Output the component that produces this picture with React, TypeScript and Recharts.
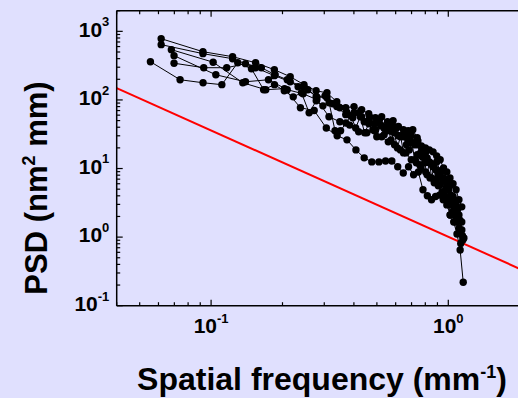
import React from 'react';
import { LineChart, Line, XAxis, YAxis } from 'recharts';

// ---------- data (spatial frequency in mm^-1, PSD in nm^2 mm) ----------
const freqAB = [0.0616, 0.0924, 0.1232, 0.154, 0.1848, 0.2156, 0.2464, 0.2772, 0.308, 0.3388, 0.3696, 0.4004, 0.4312, 0.462, 0.4928, 0.5236, 0.5544, 0.5852, 0.616, 0.6468, 0.6776, 0.7084, 0.7392, 0.77, 0.8008, 0.8316, 0.8624, 0.8932, 0.924, 0.9548, 0.9856, 1.0164, 1.0472, 1.078, 1.1088, 1.1396];
const psdA = [782, 505, 427, 349, 276, 218, 167, 136, 127, 94, 77, 80, 72, 63, 55, 57, 48, 50, 41, 36.7, 35.5, 36.7, 28.1, 21.4, 20.0, 18.7, 17.5, 15.3, 13.4, 10.2, 8.9, 7.3, 6.0, 4.9, 3.5, 2.76];
const psdB = [640, 473, 399, 295, 226, 184, 156, 111, 108, 80, 61, 65, 57, 50, 36.7, 42, 35.5, 41, 30.0, 29.0, 31.0, 23.7, 22.2, 15.3, 16.9, 12.1, 10.6, 12.5, 9.2, 7.3, 6.4, 5.6, 3.9, 2.95, 2.1, 1.66];

const freqC = [0.068, 0.102, 0.136, 0.17, 0.204, 0.238, 0.272, 0.306, 0.34, 0.374, 0.408, 0.442, 0.476, 0.51, 0.544, 0.578, 0.612, 0.646, 0.68, 0.714, 0.748, 0.782, 0.816, 0.85, 0.884, 0.918, 0.952, 0.986, 1.02, 1.054, 1.088, 1.122, 1.156];
const psdC = [541, 355, 178, 141, 146, 77, 70, 39, 30.0, 26.2, 18.7, 14.3, 12.5, 12.5, 12.9, 12.9, 10.6, 8.6, 10.6, 8.1, 8.9, 4.9, 4.0, 3.5, 3.9, 4.1, 3.5, 2.95, 2.1, 1.66, 1.11, 0.65, 0.22];

const freqD = [0.0698, 0.0931, 0.1164, 0.1396, 0.1629, 0.1862, 0.2094, 0.2327, 0.256, 0.2792, 0.3025, 0.3258, 0.349, 0.3723, 0.3956, 0.4189, 0.4421, 0.4654, 0.4887, 0.5119, 0.5352, 0.5585, 0.5817, 0.605, 0.6283, 0.6516, 0.6748, 0.6981, 0.7214, 0.7446, 0.7679, 0.7912, 0.8145, 0.8377, 0.861, 0.8843, 0.9075, 0.9308, 0.9541, 0.9774, 1.0006, 1.0239, 1.0472, 1.0704, 1.0937, 1.117, 1.1403, 1.1635];
const psdD = [343, 295, 295, 338, 295, 233, 197, 156, 141, 111, 115, 88, 77, 67, 55, 65, 48, 57, 45, 50, 39, 45, 34.3, 39, 29.0, 32.1, 26.2, 30.0, 22.2, 25.3, 17.5, 18.7, 14.3, 12.1, 10.9, 9.6, 8.1, 8.9, 6.8, 6.4, 4.9, 4.1, 3.5, 2.95, 2.5, 1.78, 1.27, 0.97];

const freqE = [0.0555, 0.074, 0.0925, 0.111, 0.1295, 0.148, 0.1665, 0.185, 0.2035, 0.222, 0.2405, 0.259, 0.2775, 0.296, 0.3145, 0.333, 0.3515, 0.37, 0.3885, 0.407, 0.4255, 0.444, 0.4625, 0.481, 0.4995, 0.518, 0.5365, 0.555, 0.5735, 0.592, 0.6105, 0.629, 0.6475, 0.666, 0.6845, 0.703, 0.7215, 0.74, 0.7585, 0.777, 0.7955, 0.814, 0.8325, 0.851, 0.8695, 0.888, 0.9065, 0.925, 0.9435, 0.962, 0.9805, 0.999, 1.0175, 1.036, 1.0545, 1.073, 1.0915, 1.11, 1.1285, 1.147];
const psdE = [361, 197, 178, 167, 349, 285, 141, 167, 136, 111, 127, 65, 97, 82, 91, 35.5, 35.5, 46, 59, 39, 57, 33.2, 45, 36.7, 29.0, 43, 31.0, 41, 26.2, 33.2, 20.0, 30.0, 16.9, 22.2, 18.7, 23.7, 13.4, 15.9, 11.3, 14.8, 12.1, 8.1, 12.5, 7.3, 10.6, 6.8, 9.2, 5.8, 7.3, 4.1, 5.2, 3.5, 2.1, 2.95, 2.35, 1.66, 2.1, 1.36, 0.81, 1.05];

const freqF = [0.0698, 0.1047, 0.1396, 0.1745, 0.2094, 0.2443, 0.2792, 0.3141, 0.349, 0.3839, 0.4188, 0.4537, 0.4886, 0.5235, 0.5584, 0.5933, 0.6282, 0.6631, 0.698, 0.7329, 0.7678, 0.8027, 0.8376, 0.8725, 0.9074, 0.9423, 0.9772, 1.0121, 1.047, 1.0819, 1.1168, 1.1517];
const psdF = [442, 233, 184, 197, 141, 123, 101, 57, 48, 43, 34.3, 33.2, 35.5, 29.0, 24.5, 22.2, 18.7, 16.9, 13.4, 12.1, 10.2, 8.9, 7.3, 6.2, 5.6, 4.6, 3.7, 2.95, 2.35, 1.9, 1.27, 0.91];

// red reference power-law line
const refFreq = [0.04, 2];
const refPsd = [149, 0.345];

// axes
const xDomain = [0.04, 2];
const yDomain = [0.1, 2000];
const xTicks = [0.04, 0.05, 0.06, 0.07, 0.08, 0.09, 0.1, 0.2, 0.3, 0.4, 0.5, 0.6, 0.7, 0.8, 0.9, 1, 2];
const xTickExp: Record<string, string> = { '0.1': '-1', '1': '0' };
const yTicks = [0.1, 0.2, 0.3, 0.4, 0.5, 0.6, 0.7, 0.8, 0.9, 1, 2, 3, 4, 5, 6, 7, 8, 9, 10, 20, 30, 40, 50, 60, 70, 80, 90, 100, 200, 300, 400, 500, 600, 700, 800, 900, 1000, 2000];
const yTickExp: Record<string, string> = { '0.1': '-1', '1': '0', '10': '1', '100': '2', '1000': '3' };

const xTitle = 'Spatial frequency (mm';
const xTitleSup = '-1';
const yTitle = 'PSD (nm';
const yTitleSup = '2';
const yTitleEnd = ' mm)';

const toRows = (f: number[], p: number[]) => f.map((x, i) => ({ f: x, v: p[i] }));
const series = [
  toRows(freqAB, psdA),
  toRows(freqAB, psdB),
  toRows(freqC, psdC),
  toRows(freqD, psdD),
  toRows(freqE, psdE),
  toRows(freqF, psdF),
];
const refRows = toRows(refFreq, refPsd);

const FONT = '"Liberation Sans", Arial, Helvetica, sans-serif';
const BG = '#E0E0FE';

const XTickBottom = (props: any) => {
  const { x, y, payload } = props;
  const exp = xTickExp[String(payload.value)];
  const major = exp !== undefined;
  return (
    <g>
      <line x1={x} x2={x} y1={y} y2={y - (major ? 6 : 3.5)} stroke="#000" strokeWidth={1.2} />
      {major && (
        <text x={x} y={y + 27.6} textAnchor="middle" fontFamily={FONT} fontWeight="bold" fill="#000">
          <tspan fontSize={21}>10</tspan>
          <tspan fontSize={13} dy={-10.5}>{exp}</tspan>
        </text>
      )}
    </g>
  );
};

const XTickTop = (props: any) => {
  const { x, y, payload } = props;
  const major = xTickExp[String(payload.value)] !== undefined;
  return <line x1={x} x2={x} y1={y} y2={y + (major ? 6 : 3.5)} stroke="#000" strokeWidth={1.2} />;
};

const YTickLeft = (props: any) => {
  const { x, y, payload } = props;
  const exp = yTickExp[String(payload.value)];
  const major = exp !== undefined;
  return (
    <g>
      <line x1={x} x2={x + (major ? 6 : 3.5)} y1={y} y2={y} stroke="#000" strokeWidth={1.2} />
      {major && (
        <text x={x - 7.4} y={y + 5.3} textAnchor="end" fontFamily={FONT} fontWeight="bold" fill="#000">
          <tspan fontSize={21}>10</tspan>
          <tspan fontSize={13} dy={-10.5}>{exp}</tspan>
        </text>
      )}
    </g>
  );
};

export default function App() {
  return (
    <div style={{ position: 'absolute', left: 0, top: 0, width: 518, height: 398, overflow: 'hidden', background: BG }}>
      <LineChart width={540} height={398} margin={{ top: 9.7, right: 20.3, bottom: 0, left: 0 }}>
        <XAxis
          xAxisId="top"
          orientation="top"
          type="number"
          dataKey="f"
          scale="log"
          domain={xDomain}
          allowDataOverflow
          ticks={xTicks}
          interval={0}
          height={1}
          tickSize={0}
          tickMargin={0}
          tickLine={false}
          axisLine={{ stroke: '#000', strokeWidth: 1.5 }}
          tick={(p: any) => <XTickTop {...p} />}
        />
        <XAxis
          type="number"
          dataKey="f"
          scale="log"
          domain={xDomain}
          allowDataOverflow
          ticks={xTicks}
          interval={0}
          height={92.3}
          tickSize={0}
          tickMargin={0}
          tickLine={false}
          axisLine={{ stroke: '#000', strokeWidth: 1.5 }}
          tick={(p: any) => <XTickBottom {...p} />}
        />
        <YAxis
          type="number"
          dataKey="v"
          scale="log"
          domain={yDomain}
          allowDataOverflow
          ticks={yTicks}
          interval={0}
          width={116.7}
          tickSize={0}
          tickMargin={0}
          tickLine={false}
          axisLine={{ stroke: '#000', strokeWidth: 1.5 }}
          tick={(p: any) => <YTickLeft {...p} />}
        />
        <Line
          data={refRows}
          dataKey="v"
          type="linear"
          stroke="#FF0000"
          strokeWidth={2}
          dot={false}
          isAnimationActive={false}
        />
        {series.map((rows, i) => (
          <Line
            key={i}
            data={rows}
            dataKey="v"
            type="linear"
            stroke="#000"
            strokeWidth={1}
            dot={{ r: 3.7, fill: '#000', stroke: 'none' }}
            isAnimationActive={false}
          />
        ))}
      </LineChart>
      <svg width={518} height={398} style={{ position: 'absolute', left: 0, top: 0, pointerEvents: 'none' }}>
        <text x={322} y={390} textAnchor="middle" fontFamily={FONT} fontWeight="bold" fontSize={32} fill="#000">
          {xTitle}
          <tspan fontSize={18} dy={-12}>{xTitleSup}</tspan>
          <tspan dy={12}>)</tspan>
        </text>
        <text
          transform="translate(47,188) rotate(-90)"
          textAnchor="middle"
          fontFamily={FONT}
          fontWeight="bold"
          fontSize={31}
          fill="#000"
        >
          {yTitle}
          <tspan fontSize={18} dy={-12}>{yTitleSup}</tspan>
          <tspan dy={12}>{yTitleEnd}</tspan>
        </text>
      </svg>
    </div>
  );
}
